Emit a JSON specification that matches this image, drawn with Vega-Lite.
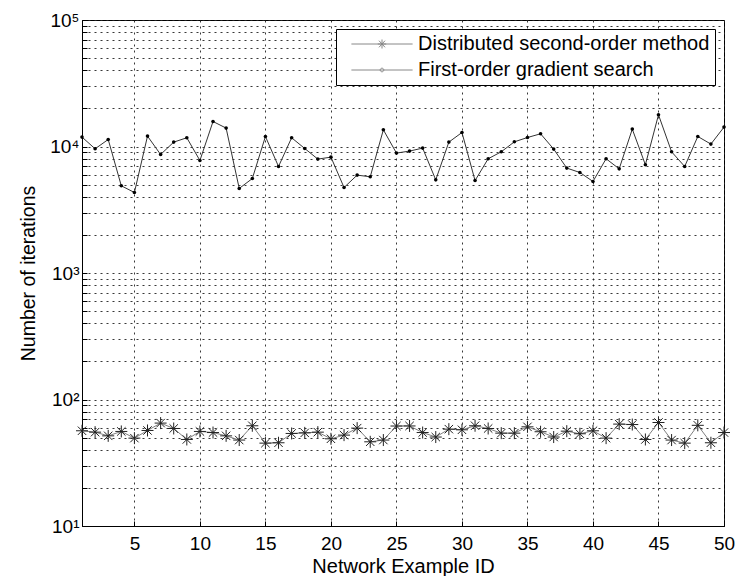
{
  "$schema": "https://vega.github.io/schema/vega-lite/v6.json",
  "width": 642,
  "height": 506,
  "autosize": {"type": "none"},
  "padding": {"left": 82, "top": 20, "right": 21, "bottom": 50},
  "background": "white",
  "config": {
    "font": "Liberation Sans",
    "view": {"stroke": "#000", "strokeWidth": 1},
    "axis": {
      "labelFont": "Liberation Sans", "labelFontSize": 19, "labelColor": "#000",
      "titleFont": "Liberation Sans", "titleFontSize": 19.5, "titleFontWeight": "normal", "titleColor": "#000",
      "domainColor": "#000", "tickColor": "#000",
      "gridColor": "#222", "gridDash": [2, 4], "gridWidth": 1, "gridOpacity": 0.9
    }
  },
  "data": {"values": [
    {"id": 1, "Distributed second-order method": 56.6, "First-order gradient search": 11870},
    {"id": 2, "Distributed second-order method": 55.2, "First-order gradient search": 9590},
    {"id": 3, "Distributed second-order method": 51.6, "First-order gradient search": 11360},
    {"id": 4, "Distributed second-order method": 55.9, "First-order gradient search": 4890},
    {"id": 5, "Distributed second-order method": 49.5, "First-order gradient search": 4330},
    {"id": 6, "Distributed second-order method": 56.9, "First-order gradient search": 12080},
    {"id": 7, "Distributed second-order method": 65.1, "First-order gradient search": 8640},
    {"id": 8, "Distributed second-order method": 59.0, "First-order gradient search": 10830},
    {"id": 9, "Distributed second-order method": 48.3, "First-order gradient search": 11720},
    {"id": 10, "Distributed second-order method": 55.9, "First-order gradient search": 7750},
    {"id": 11, "Distributed second-order method": 54.8, "First-order gradient search": 15760},
    {"id": 12, "Distributed second-order method": 51.6, "First-order gradient search": 13980},
    {"id": 13, "Distributed second-order method": 47.8, "First-order gradient search": 4660},
    {"id": 14, "Distributed second-order method": 62.0, "First-order gradient search": 5580},
    {"id": 15, "Distributed second-order method": 45.2, "First-order gradient search": 12000},
    {"id": 16, "Distributed second-order method": 45.5, "First-order gradient search": 6950},
    {"id": 17, "Distributed second-order method": 53.9, "First-order gradient search": 11720},
    {"id": 18, "Distributed second-order method": 54.5, "First-order gradient search": 9640},
    {"id": 19, "Distributed second-order method": 55.2, "First-order gradient search": 7950},
    {"id": 20, "Distributed second-order method": 48.9, "First-order gradient search": 8240},
    {"id": 21, "Distributed second-order method": 52.3, "First-order gradient search": 4740},
    {"id": 22, "Distributed second-order method": 59.4, "First-order gradient search": 5940},
    {"id": 23, "Distributed second-order method": 46.3, "First-order gradient search": 5760},
    {"id": 24, "Distributed second-order method": 47.8, "First-order gradient search": 13550},
    {"id": 25, "Distributed second-order method": 61.7, "First-order gradient search": 8870},
    {"id": 26, "Distributed second-order method": 61.8, "First-order gradient search": 9200},
    {"id": 27, "Distributed second-order method": 54.8, "First-order gradient search": 9710},
    {"id": 28, "Distributed second-order method": 50.5, "First-order gradient search": 5450},
    {"id": 29, "Distributed second-order method": 58.3, "First-order gradient search": 10830},
    {"id": 30, "Distributed second-order method": 57.6, "First-order gradient search": 12900},
    {"id": 31, "Distributed second-order method": 62.0, "First-order gradient search": 5380},
    {"id": 32, "Distributed second-order method": 59.0, "First-order gradient search": 8000},
    {"id": 33, "Distributed second-order method": 54.2, "First-order gradient search": 9080},
    {"id": 34, "Distributed second-order method": 54.2, "First-order gradient search": 10890},
    {"id": 35, "Distributed second-order method": 60.8, "First-order gradient search": 11780},
    {"id": 36, "Distributed second-order method": 55.6, "First-order gradient search": 12600},
    {"id": 37, "Distributed second-order method": 50.5, "First-order gradient search": 9540},
    {"id": 38, "Distributed second-order method": 56.2, "First-order gradient search": 6750},
    {"id": 39, "Distributed second-order method": 53.6, "First-order gradient search": 6230},
    {"id": 40, "Distributed second-order method": 56.6, "First-order gradient search": 5290},
    {"id": 41, "Distributed second-order method": 49.5, "First-order gradient search": 8000},
    {"id": 42, "Distributed second-order method": 63.9, "First-order gradient search": 6660},
    {"id": 43, "Distributed second-order method": 63.4, "First-order gradient search": 13720},
    {"id": 44, "Distributed second-order method": 48.3, "First-order gradient search": 7170},
    {"id": 45, "Distributed second-order method": 65.8, "First-order gradient search": 17810},
    {"id": 46, "Distributed second-order method": 47.8, "First-order gradient search": 9080},
    {"id": 47, "Distributed second-order method": 45.2, "First-order gradient search": 6950},
    {"id": 48, "Distributed second-order method": 62.5, "First-order gradient search": 12000},
    {"id": 49, "Distributed second-order method": 45.5, "First-order gradient search": 10450},
    {"id": 50, "Distributed second-order method": 54.8, "First-order gradient search": 14230}
  ]},
  "transform": [
    {"fold": ["Distributed second-order method", "First-order gradient search"], "as": ["series", "value"]}
  ],
  "encoding": {
    "x": {
      "field": "id", "type": "quantitative",
      "scale": {"domain": [1, 50], "nice": false, "zero": false},
      "axis": {
        "title": "Network Example ID", "titleFontSize": 20,
        "values": [5, 10, 15, 20, 25, 30, 35, 40, 45, 50],
        "tickSize": -5, "labelPadding": 13, "titlePadding": 3,
        "grid": true, "labelFlush": false
      }
    },
    "y": {
      "field": "value", "type": "quantitative",
      "scale": {"type": "log", "domain": [10, 100000], "nice": false},
      "axis": {
        "title": "Number of iterations",
        "values": [10, 20, 30, 40, 50, 60, 70, 80, 90, 100, 200, 300, 400, 500, 600, 700, 800, 900, 1000, 2000, 3000, 4000, 5000, 6000, 7000, 8000, 9000, 10000, 20000, 30000, 40000, 50000, 60000, 70000, 80000, 90000, 100000],
        "labelExpr": "datum.value == 10 ? '10¹' : datum.value == 100 ? '10²' : datum.value == 1000 ? '10³' : datum.value == 10000 ? '10⁴' : datum.value == 100000 ? '10⁵' : ''",
        "tickSize": -5, "labelPadding": 8,
        "grid": true, "labelFlush": false,
        "titleX": -44
      }
    }
  },
  "layer": [
    {
      "mark": {"type": "line", "strokeWidth": 1},
      "encoding": {
        "color": {"field": "series", "type": "nominal", "scale": {"range": ["#808080", "#333333"]}, "legend": null}
      }
    },
    {
      "transform": [{"filter": "datum.series == 'Distributed second-order method'"}],
      "mark": {"type": "point", "shape": "M-1,0L1,0M0,-1L0,1M-0.7,-0.7L0.7,0.7M-0.7,0.7L0.7,-0.7", "size": 144, "filled": false, "stroke": "#222", "strokeWidth": 1, "opacity": 1}
    },
    {
      "transform": [{"filter": "datum.series == 'First-order gradient search'"}],
      "mark": {"type": "point", "shape": "circle", "size": 13, "filled": true, "color": "#000", "opacity": 1}
    },
    {
      "mark": {"type": "point", "filled": false, "opacity": 0},
      "encoding": {
        "color": {"field": "series", "type": "nominal", "scale": {"range": ["#808080", "#333333"]},
          "legend": {"title": null, "orient": "top-right", "offset": 9}},
        "shape": {"field": "series", "type": "nominal",
          "scale": {"range": [
            "M-5.1,0L5.1,0M-0.7,0L0.7,0M0,-0.75L0,0.75M-0.5,-0.55L0.5,0.55M-0.5,0.55L0.5,-0.55",
            "M-5.1,0L5.1,0M-0.3,0A0.3,0.3 0 1,0 0.3,0A0.3,0.3 0 1,0 -0.3,0Z"
          ]},
          "legend": {
            "title": null, "orient": "top-right", "offset": 9,
            "labelFontSize": 20, "labelFont": "Liberation Sans", "labelColor": "#000", "labelLimit": 500,
            "padding": 5, "rowPadding": 6,
            "strokeColor": "#000", "fillColor": "#fff", "cornerRadius": 0,
            "symbolSize": 144, "symbolStrokeWidth": 1, "symbolOffset": 31, "labelOffset": 26,
            "encode": {"symbols": {"update": {"opacity": {"value": 1}, "fill": {"value": "#000"}}}}
          }
        }
      }
    }
  ]
}
